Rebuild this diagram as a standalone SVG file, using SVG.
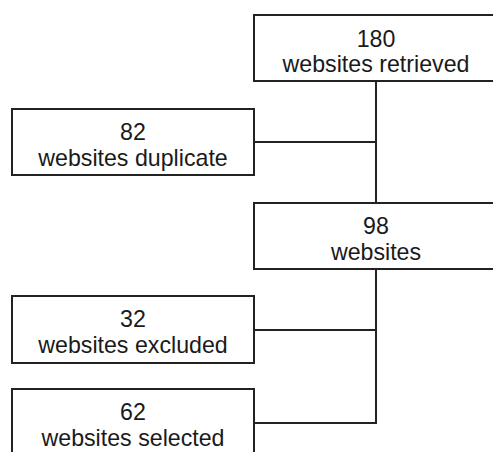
<svg xmlns="http://www.w3.org/2000/svg" width="493" height="452" viewBox="0 0 493 452">
<style>
.box{fill:#fff;stroke:#222;stroke-width:2}
.t{font-family:"Liberation Sans",Arial,sans-serif;font-size:23.2px;fill:#1a1a1a;text-anchor:middle}
.c{fill:none;stroke:#222;stroke-width:2}
</style>
<rect width="493" height="452" fill="#fff"/>
<g id="connectors">
<path class="c" d="M376 81V203M254 142H376M376 269V423H254M254 330H376"/>
</g>
<g id="n180">
<rect class="box" x="254" y="15" width="250" height="66"/>
<text class="t" x="376" y="47">180</text>
<text class="t" x="376" y="72">websites retrieved</text>
</g>
<g id="n82">
<rect class="box" x="12" y="109" width="242" height="66"/>
<text class="t" x="133" y="140">82</text>
<text class="t" x="133" y="166">websites duplicate</text>
</g>
<g id="n98">
<rect class="box" x="254" y="203" width="250" height="66"/>
<text class="t" x="376" y="234">98</text>
<text class="t" x="376" y="260">websites</text>
</g>
<g id="n32">
<rect class="box" x="12" y="296" width="242" height="67"/>
<text class="t" x="133" y="327">32</text>
<text class="t" x="133" y="353">websites excluded</text>
</g>
<g id="n62">
<rect class="box" x="12" y="389" width="242" height="80"/>
<text class="t" x="133" y="420">62</text>
<text class="t" x="133" y="446">websites selected</text>
</g>
</svg>
